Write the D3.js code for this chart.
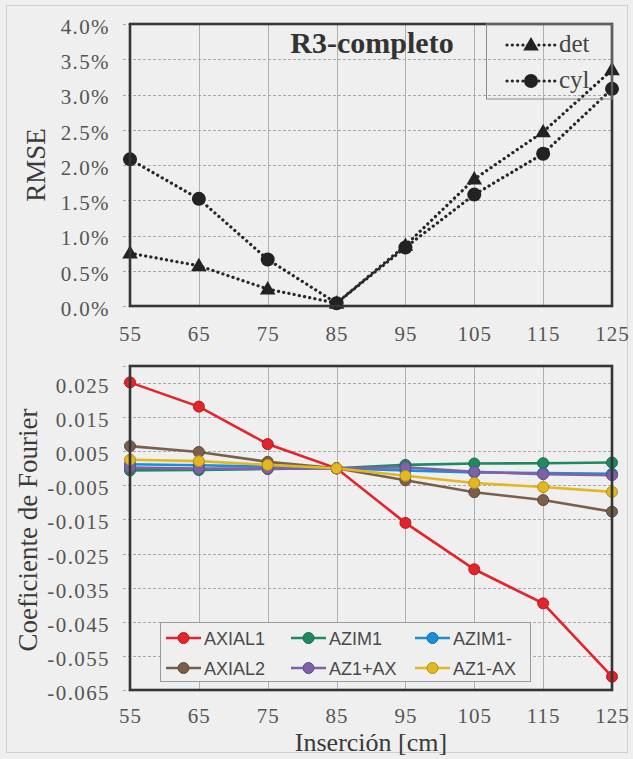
<!DOCTYPE html>
<html>
<head>
<meta charset="utf-8">
<script src="https://cdn.jsdelivr.net/npm/d3@7"></script>
<style>
  html, body { margin: 0; padding: 0; background: #efefef; }
  svg { display: block; }
  .tick text { font-family: 'Liberation Serif', 'Times New Roman', serif; }
</style>
</head>
<body>
<svg id="chart" width="633" height="759"></svg>
<script>
// Insertion depths (cm), shared by both panels
const inserciones = [55, 65, 75, 85, 95, 105, 115, 125];

// Upper panel: RMSE of each model
const rmseDet = [0.0075, 0.0057, 0.0024, 0.0004, 0.0086, 0.0180, 0.0247, 0.0335];
const rmseCyl = [0.0208, 0.0152, 0.0066, 0.0004, 0.0083, 0.0158, 0.0216, 0.0308];
const rmseTicks = [0, 0.005, 0.01, 0.015, 0.02, 0.025, 0.03, 0.035, 0.04];

// Lower panel: Fourier coefficients
const axial1 = [0.0252, 0.0181, 0.0071, 0.0000, -0.0160, -0.0296, -0.0396, -0.0611];
const azim1  = [-0.0006, -0.0005, -0.0002, 0.0000, 0.0010, 0.0014, 0.0015, 0.0017];
const azim1m = [0.0012, 0.0009, 0.0005, 0.0000, -0.0006, -0.0012, -0.0014, -0.0016];
const axial2 = [0.0065, 0.0048, 0.0019, 0.0000, -0.0035, -0.0070, -0.0093, -0.0127];
const az1pax = [0.0002, -0.0001, -0.0001, 0.0000, 0.0003, -0.0010, -0.0017, -0.0020];
const az1max = [0.0025, 0.0021, 0.0010, 0.0000, -0.0022, -0.0043, -0.0055, -0.0069];
const fourierTicks = [-0.065, -0.055, -0.045, -0.035, -0.025, -0.015, -0.005, 0.005, 0.015, 0.025];

const seriesNames = ["AXIAL1", "AZIM1", "AZIM1-", "AXIAL2", "AZ1+AX", "AZ1-AX"];
const seriesValues = [axial1, azim1, azim1m, axial2, az1pax, az1max];
const seriesColors = ["#e5232b", "#1f8a5f", "#1b8fd6", "#7a604c", "#7d62aa", "#e4b61f"];

const svg = d3.select("#chart");
const serif = "'Liberation Serif', 'Times New Roman', serif";
const sans = "'Liberation Sans', Arial, sans-serif";
const locale = d3.formatLocale({decimal: ".", thousands: ",", grouping: [3], currency: ["", ""], minus: "-"});

// outer frame
svg.append("rect").attr("x", 6.5).attr("y", 5.5).attr("width", 621).attr("height", 747)
  .attr("fill", "#efefef").attr("stroke", "#cfcfcf").attr("stroke-width", 1);

const L = 130, R = 612;
const x = d3.scaleLinear().domain([55, 125]).range([L, R]);

function panel(g, y, yTicks, yFmt, top, bottom, xPad) {
  // horizontal dashed grid
  g.append("g").selectAll("line").data(yTicks.concat([y.domain()[1]])).join("line")
    .attr("x1", L - 7).attr("x2", R)
    .attr("y1", d => Math.round(y(d)) + 0.5).attr("y2", d => Math.round(y(d)) + 0.5)
    .attr("stroke", "#a9a9a9").attr("stroke-width", 1).attr("stroke-dasharray", "3,2");
  // vertical grid
  g.append("g").selectAll("line").data(inserciones).join("line")
    .attr("x1", d => Math.round(x(d)) + 0.5).attr("x2", d => Math.round(x(d)) + 0.5)
    .attr("y1", top).attr("y2", bottom)
    .attr("stroke", "#a8a8a8").attr("stroke-width", 0.9);

  const ya = g.append("g").attr("transform", `translate(${L},0)`)
    .call(d3.axisLeft(y).tickValues(yTicks).tickFormat(yFmt).tickSize(0).tickPadding(20));
  ya.attr("font-family", serif);
  ya.select(".domain").remove();
  ya.selectAll("text").style("font-family", serif).attr("font-size", 21)
    .attr("letter-spacing", 1.4).attr("fill", "#555").attr("dy", "0.45em");

  const xa = g.append("g").attr("transform", `translate(0,${bottom})`)
    .call(d3.axisBottom(x).tickValues(inserciones).tickFormat(d3.format("d")).tickSize(0).tickPadding(xPad));
  xa.attr("font-family", serif);
  xa.select(".domain").remove();
  xa.selectAll("text").style("font-family", serif).attr("font-size", 21)
    .attr("letter-spacing", 1).attr("fill", "#555");
}

/* ---------- upper panel ---------- */
const T1 = 24, B1 = 306;
const y1 = d3.scaleLinear().domain([0, 0.04]).range([B1, T1]);
const g1 = svg.append("g");
panel(g1, y1, rmseTicks, d3.format(".1%"), T1, B1, 20);

g1.append("text").attr("transform", `translate(45,${(T1 + B1) / 2}) rotate(-90)`)
  .attr("text-anchor", "middle").attr("font-family", serif).attr("font-size", 27)
  .attr("fill", "#3a3a3a").text("RMSE");

const dotted = {stroke: "#262626", "stroke-width": 3.2, "stroke-dasharray": "0.1,5.2", "stroke-linecap": "round", fill: "none"};
const line1 = d3.line().x((d, i) => x(inserciones[i])).y(d => y1(d));
const tri = d3.symbol().type(d3.symbolTriangle).size(105);

function dottedPath(sel) { Object.entries(dotted).forEach(([k, v]) => sel.attr(k, v)); return sel; }

dottedPath(g1.append("path").datum(rmseCyl).attr("d", line1));
dottedPath(g1.append("path").datum(rmseDet).attr("d", line1));
g1.append("g").selectAll("circle").data(rmseCyl).join("circle")
  .attr("cx", (d, i) => x(inserciones[i])).attr("cy", d => y1(d)).attr("r", 7).attr("fill", "#222");
g1.append("g").selectAll("path").data(rmseDet).join("path")
  .attr("transform", (d, i) => `translate(${x(inserciones[i])},${y1(d) + 1})`).attr("d", tri).attr("fill", "#222");

// plot border
g1.append("rect").attr("x", L).attr("y", T1).attr("width", R - L).attr("height", B1 - T1)
  .attr("fill", "none").attr("stroke", "#353535").attr("stroke-width", 2.6);

g1.append("text").attr("x", 372).attr("y", 53).attr("text-anchor", "middle")
  .attr("font-family", serif).attr("font-size", 30).attr("font-weight", "bold")
  .attr("fill", "#333").text("R3-completo");

// legend
const lg1 = g1.append("g");
lg1.append("rect").attr("x", 486.5).attr("y", T1).attr("width", R - 486.5).attr("height", 75)
  .attr("fill", "none").attr("stroke", "#8a8a8a").attr("stroke-width", 1);
[["det", 45, "tri"], ["cyl", 81, "circ"]].forEach(([name, yy, m]) => {
  dottedPath(lg1.append("path").attr("d", `M507,${yy}L555,${yy}`));
  if (m === "tri") lg1.append("path").attr("transform", `translate(531,${yy + 1})`).attr("d", tri).attr("fill", "#222");
  else lg1.append("circle").attr("cx", 531).attr("cy", yy).attr("r", 7).attr("fill", "#222");
  lg1.append("text").attr("x", 559).attr("y", yy + 7).attr("font-family", serif).attr("font-size", 25)
    .attr("fill", "#444").text(name);
});

/* ---------- lower panel ---------- */
const T2 = 366, B2 = 690;
const y2 = d3.scaleLinear().domain([-0.065, 0.03]).range([B2, T2]);
const g2 = svg.append("g");
panel(g2, y2, fourierTicks, locale.format(".3f"), T2, B2, 18);

g2.append("text").attr("transform", `translate(37,530) rotate(-90)`)
  .attr("text-anchor", "middle").attr("font-family", serif).attr("font-size", 27)
  .attr("fill", "#3a3a3a").text("Coeficiente de Fourier");
g2.append("text").attr("x", 371).attr("y", 751).attr("text-anchor", "middle")
  .attr("font-family", serif).attr("font-size", 26).attr("fill", "#3a3a3a").text("Inserción [cm]");

const line2 = d3.line().x((d, i) => x(inserciones[i])).y(d => y2(d));
seriesValues.forEach((vals, k) => {
  const c = seriesColors[k];
  g2.append("path").datum(vals).attr("d", line2).attr("fill", "none")
    .attr("stroke", c).attr("stroke-width", 2.6);
  g2.append("g").selectAll("circle").data(vals).join("circle")
    .attr("cx", (d, i) => x(inserciones[i])).attr("cy", d => y2(d)).attr("r", 5.5)
    .attr("fill", c).attr("stroke", d3.color(c).darker(0.7)).attr("stroke-width", 1);
});

// legend
const lg2 = g2.append("g");
lg2.append("rect").attr("x", 160.5).attr("y", 622.5).attr("width", 370).attr("height", 59)
  .attr("fill", "#efefef").attr("stroke", "#9a9a9a").attr("stroke-width", 1);
const colX = [166, 291, 415], rowY = [638, 668];
seriesNames.forEach((name, k) => {
  const cx = colX[k % 3], cy = rowY[Math.floor(k / 3)], c = seriesColors[k];
  lg2.append("line").attr("x1", cx).attr("x2", cx + 35).attr("y1", cy).attr("y2", cy)
    .attr("stroke", c).attr("stroke-width", 2.6);
  lg2.append("circle").attr("cx", cx + 17.5).attr("cy", cy).attr("r", 5.5)
    .attr("fill", c).attr("stroke", d3.color(c).darker(0.7)).attr("stroke-width", 1);
  lg2.append("text").attr("x", cx + 38).attr("y", cy + 6.5).attr("font-family", sans)
    .attr("font-size", 18).attr("fill", "#4a4a4a").text(name);
});

// plot border
g2.append("rect").attr("x", L).attr("y", T2).attr("width", R - L).attr("height", B2 - T2)
  .attr("fill", "none").attr("stroke", "#353535").attr("stroke-width", 2.6);
</script>
</body>
</html>
